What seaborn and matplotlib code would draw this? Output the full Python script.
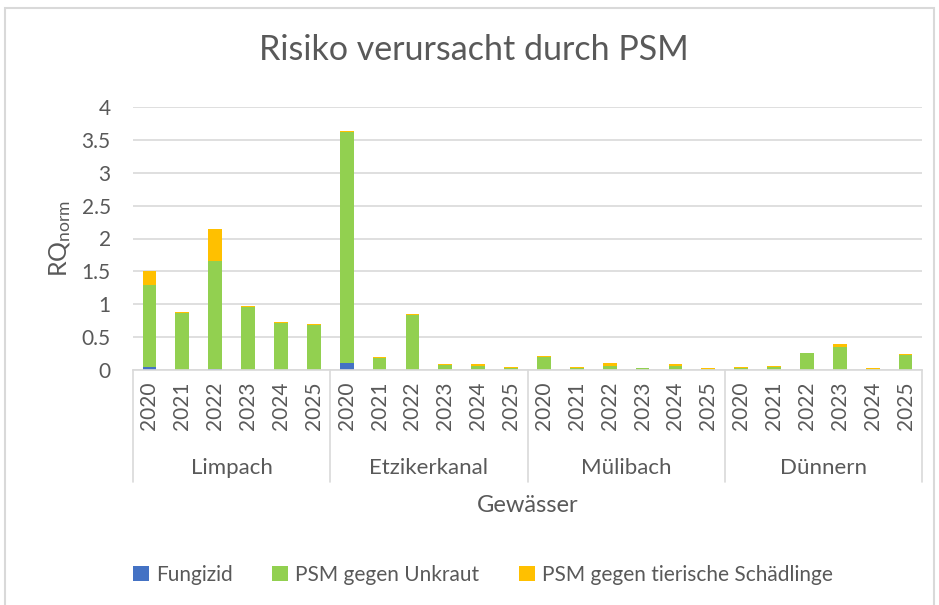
import pandas as pd
import seaborn as sns
import matplotlib.pyplot as plt
from matplotlib.patches import Rectangle
from matplotlib.transforms import blended_transform_factory

# data
gewaesser = ["Limpach", "Etzikerkanal", "Mülibach", "Dünnern"]
jahre = ["2020", "2021", "2022", "2023", "2024", "2025"]

fungizid = [0.05, 0.0, 0.02, 0.0, 0.0, 0.0,
            0.11, 0.0, 0.0, 0.0, 0.0, 0.0,
            0.0, 0.0, 0.0, 0.0, 0.0, 0.0,
            0.0, 0.0, 0.0, 0.0, 0.0, 0.0]
unkraut = [1.24, 0.86, 1.64, 0.955, 0.716, 0.686,
           3.51, 0.18, 0.84, 0.08, 0.066, 0.035,
           0.20, 0.025, 0.066, 0.036, 0.066, 0.01,
           0.036, 0.05, 0.255, 0.347, 0.015, 0.23]
schaedlinge = [0.21, 0.015, 0.49, 0.02, 0.015, 0.015,
               0.015, 0.02, 0.005, 0.005, 0.02, 0.015,
               0.02, 0.015, 0.035, 0.0, 0.02, 0.025,
               0.015, 0.015, 0.0, 0.045, 0.02, 0.02]

farben = {"Fungizid": "#4472C4",
          "PSM gegen Unkraut": "#92D050",
          "PSM gegen tierische Schädlinge": "#FFC000"}
grau = "#595959"
linie = "#D9D9D9"

sns.set_style("white")
plt.rcParams["font.family"] = ["Lato", "DejaVu Sans"]
plt.rcParams["mathtext.fontset"] = "custom"
plt.rcParams["mathtext.rm"] = "Lato"
plt.rcParams["mathtext.it"] = "Lato"

df = pd.DataFrame({
    "gewaesser": [g for g in gewaesser for _ in jahre],
    "jahr": jahre * len(gewaesser),
    "fungizid": fungizid,
    "unkraut": unkraut,
    "schaedlinge": schaedlinge,
})
df["key"] = df["gewaesser"] + " " + df["jahr"]
# cumulative tops for stacking
df["top_unkraut"] = df["fungizid"] + df["unkraut"]
df["top_total"] = df["top_unkraut"] + df["schaedlinge"]

W, H = 939, 605
fig = plt.figure(figsize=(W / 100, H / 100), dpi=100)
ax = fig.add_axes([133 / W, 1 - 370 / H, 789 / W, 263 / H])

order = list(df["key"])
sns.barplot(data=df, x="key", y="top_total", order=order, width=0.42,
            color=farben["PSM gegen tierische Schädlinge"], saturation=1,
            linewidth=0, label="PSM gegen tierische Schädlinge", ax=ax)
sns.barplot(data=df, x="key", y="top_unkraut", order=order, width=0.42,
            color=farben["PSM gegen Unkraut"], saturation=1,
            linewidth=0, label="PSM gegen Unkraut", ax=ax)
sns.barplot(data=df, x="key", y="fungizid", order=order, width=0.42,
            color=farben["Fungizid"], saturation=1,
            linewidth=0, label="Fungizid", ax=ax)

ax.set_ylim(0, 4)
ax.set_xlim(-0.5, len(order) - 0.5)
ax.set_yticks([0, 0.5, 1, 1.5, 2, 2.5, 3, 3.5, 4])
ax.set_yticklabels(["0", "0.5", "1", "1.5", "2", "2.5", "3", "3.5", "4"])
ax.yaxis.grid(True, color=linie, linewidth=1.2)
ax.set_axisbelow(True)
for s in ["top", "right", "left"]:
    ax.spines[s].set_visible(False)
ax.spines["bottom"].set_color(linie)
ax.spines["bottom"].set_linewidth(1.2)

ax.set_xticks(range(len(order)))
ax.set_xticklabels(df["jahr"], rotation=90)
ax.tick_params(axis="x", length=0, pad=8, labelsize=15, labelcolor=grau)
ax.tick_params(axis="y", length=0, pad=16, labelsize=15, labelcolor=grau)
ax.set_xlabel("")
ax.set_ylabel("")

# group labels and separators below the axis
trans = blended_transform_factory(ax.transData, ax.transAxes)
n = len(jahre)
for i, g in enumerate(gewaesser):
    ax.text(i * n + (n - 1) / 2, -98 / 263, g, transform=trans,
            ha="center", va="center", fontsize=16, color=grau)
for i in range(len(gewaesser) + 1):
    ax.plot([i * n - 0.5, i * n - 0.5], [0, -112 / 263], transform=trans,
            color=linie, linewidth=1.2, clip_on=False)

ax.text(0.5, -135 / 263, "Gewässer", transform=ax.transAxes,
        ha="center", va="center", fontsize=17, color=grau)
fig.text(60 / W, 1 - 238 / H, "RQ$_{\\mathrm{norm}}$", rotation=90,
         ha="center", va="center", fontsize=18, color=grau)
fig.text(474 / W, 1 - 50 / H, "Risiko verursacht durch PSM",
         ha="center", va="center", fontsize=24.5, color=grau)

handles, labels = ax.get_legend_handles_labels()
lookup = dict(zip(labels, handles))
reihenfolge = ["Fungizid", "PSM gegen Unkraut", "PSM gegen tierische Schädlinge"]
leg = fig.legend([lookup[l] for l in reihenfolge], reihenfolge, loc="center",
                 bbox_to_anchor=(483 / W, 1 - 575 / H), ncol=3, frameon=False,
                 fontsize=15, handlelength=0.75, handleheight=0.75,
                 handletextpad=0.35, columnspacing=1.9)
for t in leg.get_texts():
    t.set_color(grau)
if ax.get_legend() is not None:
    ax.get_legend().remove()

fig.patches.append(Rectangle((5 / W, -0.01), 929 / W, 1 - 8 / H + 0.01,
                             transform=fig.transFigure, fill=False,
                             edgecolor=linie, linewidth=1.5))

fig.savefig("out.png", dpi=100)
